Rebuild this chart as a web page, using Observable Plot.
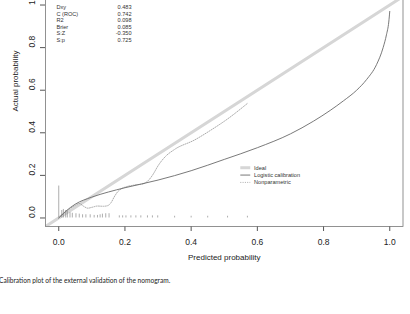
<!DOCTYPE html>
<html>
<head>
<meta charset="utf-8">
<script src="https://cdn.jsdelivr.net/npm/d3@7"></script>
<script src="https://cdn.jsdelivr.net/npm/@observablehq/plot@0.6"></script>
<style>
  html, body { margin: 0; padding: 0; background: #fff; }
  #wrap { position: relative; width: 410px; height: 314px; overflow: hidden; background:#fff; }
  #chart { position: absolute; left: 0; top: -4px; }
  #caption { position: absolute; left: -1px; top: 276px; font-family: Lato, "Open Sans", sans-serif; font-size: 6.6px; color: #222; white-space: nowrap; }
</style>
</head>
<body>
<div id="wrap">
  <div id="chart"></div>
  <div id="caption">Calibration plot of the external validation of the nomogram.</div>
</div>
<script>
// ---- data ----
const xTicks = [0, 0.2, 0.4, 0.6, 0.8, 1.0];
const yTicks = [0, 0.2, 0.4, 0.6, 0.8, 1.0];

const idealX = [-0.04, 1.04];
const idealY = [-0.04, 1.04];

const logisticX = [0, 0.02, 0.05, 0.1, 0.15, 0.2, 0.3, 0.4, 0.5, 0.6, 0.7, 0.77, 0.82, 0.86, 0.9, 0.93, 0.96, 0.98, 0.99, 0.997, 1.0];
const logisticY = [0, 0.03, 0.065, 0.098, 0.122, 0.142, 0.178, 0.222, 0.275, 0.33, 0.395, 0.455, 0.505, 0.55, 0.6, 0.65, 0.72, 0.8, 0.86, 0.92, 0.97];

const nonparX = [0, 0.01, 0.03, 0.05, 0.062, 0.075, 0.088, 0.1, 0.117, 0.135, 0.148, 0.158, 0.168, 0.178, 0.19, 0.205, 0.23, 0.255, 0.27, 0.285, 0.3, 0.32, 0.35, 0.41, 0.46, 0.51, 0.57];
const nonparY = [0, 0.015, 0.04, 0.06, 0.068, 0.055, 0.046, 0.05, 0.056, 0.055, 0.058, 0.072, 0.1, 0.123, 0.138, 0.147, 0.155, 0.16, 0.175, 0.205, 0.245, 0.285, 0.322, 0.366, 0.413, 0.465, 0.538];

const riskX = [0, 0.009, 0.014, 0.021, 0.026, 0.034, 0.041, 0.052, 0.062, 0.072, 0.082, 0.095, 0.107, 0.117, 0.125, 0.132, 0.142, 0.152, 0.183, 0.193, 0.203, 0.218, 0.233, 0.248, 0.268, 0.283, 0.299, 0.35, 0.40, 0.45, 0.51, 0.57];
const riskH = [0.15, 0.035, 0.04, 0.035, 0.03, 0.025, 0.022, 0.02, 0.018, 0.015, 0.015, 0.015, 0.012, 0.012, 0.015, 0.018, 0.02, 0.02, 0.01, 0.01, 0.01, 0.01, 0.01, 0.01, 0.01, 0.01, 0.01, 0.008, 0.008, 0.008, 0.008, 0.008];

const statLabels = ["Dxy", "C (ROC)", "R2", "Brier", "S:Z", "S:p"];
const statValues = ["0.483", "0.742", "0.098", "0.085", "-0.350", "0.725"];

const legendLabels = ["Ideal", "Logistic calibration", "Nonparametric"];

// ---- build ----
const ideal = idealX.map((x, i) => ({x, y: idealY[i]}));
const logistic = logisticX.map((x, i) => ({x, y: logisticY[i]}));
const nonpar = nonparX.map((x, i) => ({x, y: nonparY[i]}));
const risk = riskX.map((x, i) => ({x, h: riskH[i]}));
const stats = statLabels.map((l, i) => ({l, v: statValues[i], i}));
const legend = legendLabels.map((l, i) => ({l, i}));

const statY = i => 0.988 - i * 0.0305;
const legY = i => 0.236 - i * 0.0345;
const legStyles = [
  {stroke: "#d6d6d6", strokeWidth: 3, dash: null},
  {stroke: "#6a6a6a", strokeWidth: 0.9, dash: null},
  {stroke: "#888", strokeWidth: 0.7, dash: "1,1.3"}
];

const font = "'Liberation Sans', Arial, sans-serif";

const chart = Plot.plot({
  width: 410,
  height: 270,
  marginLeft: 45,
  marginRight: 7.5,
  marginTop: 0,
  marginBottom: 40,
  style: {fontFamily: font, background: "#fff", color: "#222"},
  x: {domain: [-0.04, 1.04], label: null},
  y: {domain: [-0.04, 1.04], label: null},
  marks: [
    Plot.axisX({ticks: xTicks, tickSize: 5, tickPadding: 7, tickFormat: d => d.toFixed(1), fontSize: 8.5, label: null, stroke: "#555"}),
    Plot.axisY({ticks: yTicks, tickSize: 5, tickFormat: () => "", label: null, stroke: "#555"}),
    Plot.text(yTicks, {y: d => d, text: d => d.toFixed(1), frameAnchor: "left", dx: -13, rotate: -90, fontSize: 8.5, fill: "#222"}),
    Plot.text(["Actual probability"], {frameAnchor: "left", dx: -30, rotate: -90, fontSize: 8, fill: "#222"}),
    Plot.text(["Predicted probability"], {frameAnchor: "bottom", dy: 33, fontSize: 8, fill: "#222"}),
    Plot.line(ideal, {x: "x", y: "y", stroke: "#d6d6d6", strokeWidth: 3, clip: true}),
    Plot.ruleX(risk, {x: "x", y1: 0, y2: "h", stroke: "#777", strokeWidth: 0.6}),
    Plot.line(nonpar, {x: "x", y: "y", stroke: "#888", strokeWidth: 0.7, strokeDasharray: "1,1.3", curve: "monotone-x"}),
    Plot.line(logistic, {x: "x", y: "y", stroke: "#6a6a6a", strokeWidth: 0.9, curve: "monotone-x"}),
    Plot.frame({stroke: "#777", strokeWidth: 0.8}),
    Plot.text(stats, {x: -0.007, y: d => statY(d.i), text: "l", textAnchor: "start", fontSize: 5.6, fill: "#333"}),
    Plot.text(stats, {x: 0.22, y: d => statY(d.i), text: "v", textAnchor: "end", fontSize: 5.6, fill: "#333"}),
    ...legend.map(d => Plot.ruleY([legY(d.i)], {x1: 0.55, x2: 0.58, stroke: legStyles[d.i].stroke, strokeWidth: legStyles[d.i].strokeWidth, strokeDasharray: legStyles[d.i].dash})),
    Plot.text(legend, {x: 0.59, y: d => legY(d.i), text: "l", textAnchor: "start", fontSize: 5.6, fill: "#333"})
  ]
});
document.getElementById("chart").appendChild(chart);
</script>
</body>
</html>
